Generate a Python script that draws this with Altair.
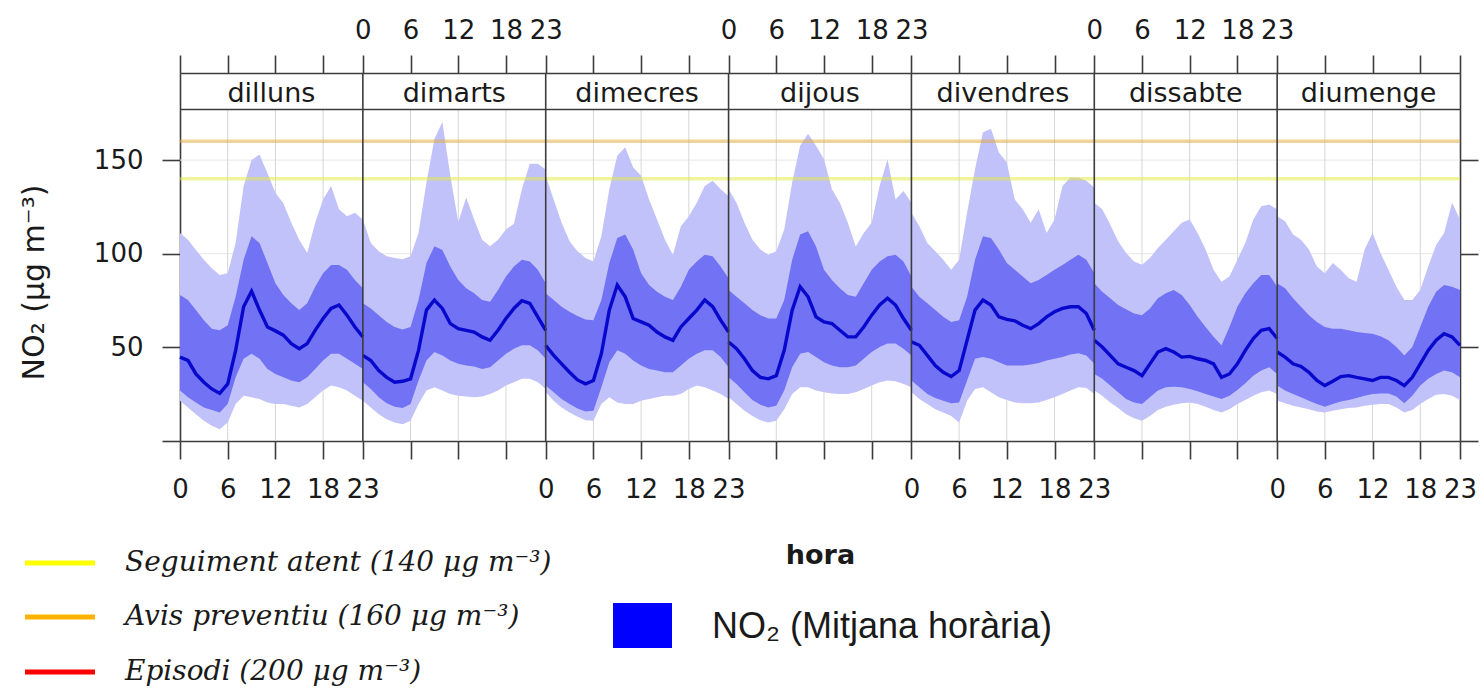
import altair as alt
import pandas as pd

DAYS = ["dilluns", "dimarts", "dimecres", "dijous", "divendres", "dissabte", "diumenge"]
HOURS = list(range(24))
TICK_HOURS = [0, 6, 12, 18]
GRID_HOURS = [6, 12, 18]
Y_TICKS = [0, 50, 100, 150]
Y_GRID = [50, 100, 150]
THRESHOLDS = [140, 160]
THRESHOLD_COLORS = ["#E2EA40", "#E0A838"]
LEGEND_LABELS = ["Seguiment atent (140 μg m⁻³)", "Avis preventiu (160 μg m⁻³)", "Episodi (200 μg m⁻³)"]
LEGEND_COLORS = ["#FFFF00", "#FFB300", "#FF0000"]
SERIES_LABEL = "NO₂ (Mitjana horària)"
Y_TITLE = "NO₂ (µg m⁻³)"
X_TITLE = "hora"

OUTER_HI = [
    [111, 107.5, 102, 96.8, 92.3, 88.7, 89.6, 105.7, 136, 150, 153, 143, 132.6, 127, 116.5, 107.5, 100.4, 116.5, 129, 136.2, 123.7, 120, 121.9, 118.3],
    [118.3, 105.7, 101.3, 98.6, 97.7, 97.1, 98.6, 111, 138, 161.3, 170.3, 141.6, 117, 130, 118.3, 107.5, 104, 107.5, 113, 116, 134.4, 148, 148, 145],
    [141.6, 129, 116.5, 106.6, 101.3, 97.7, 95.9, 109.3, 134.4, 152.3, 156.8, 146, 141.6, 129, 118.3, 107.5, 99.5, 114.7, 120, 127.2, 136.2, 138.9, 134.4, 130.8],
    [134.4, 127.2, 116.5, 107.5, 102.2, 99.5, 101.3, 112.9, 138, 157.7, 164, 157.7, 150.5, 134.4, 127.2, 116.5, 103.9, 111, 116.5, 136.2, 150.5, 129, 133.5, 127.2],
    [121.9, 114.7, 105.7, 101.3, 96.8, 91.4, 96.8, 121.9, 145.2, 164.9, 166.7, 154.1, 148.7, 129, 123.7, 116.5, 123.7, 111.1, 118.3, 136.2, 140.7, 140.7, 138.9, 135.3],
    [127.2, 123.7, 115.6, 106.6, 100.4, 95.9, 94.1, 97.7, 103, 107.5, 112, 116.5, 118.3, 111.1, 102.2, 91.4, 85.1, 87.8, 96.8, 105.7, 118.3, 125.4, 126.3, 123.7],
    [120, 117.4, 110.2, 107.5, 102.2, 93.2, 89.6, 95, 91.4, 86.9, 85.1, 102.2, 111.1, 100.4, 91.4, 82.4, 75.3, 75.3, 80.6, 93.2, 104.7, 111.1, 127.2, 118.3],
]
INNER_HI = [
    [78, 75.3, 69.9, 64.5, 60, 59.1, 61.8, 77, 96.8, 109.3, 105.7, 95, 84.2, 78, 73.5, 69.9, 73.5, 82.4, 89.6, 94, 94, 91.4, 86, 81.5],
    [73.5, 70.8, 67.2, 63.6, 60.9, 59.5, 60.9, 75.3, 95, 104, 102, 93.2, 86, 81.5, 78.9, 75.3, 74.4, 80.6, 87.8, 93.2, 96.8, 95.9, 91.4, 84.2],
    [78.9, 75.3, 71.7, 69, 66.7, 64.9, 64.5, 75.3, 95, 108.4, 110.2, 102.2, 89.6, 83.3, 79.7, 77, 75.3, 82.4, 91.4, 95.9, 99.5, 98.6, 93.2, 86.9],
    [80.6, 77, 73.5, 69.9, 67.2, 65.4, 65.4, 75.3, 96.8, 110.2, 112, 103.9, 91.4, 86, 81.5, 78, 77, 84.2, 91.4, 95.9, 98.6, 99.5, 95.9, 87.8],
    [82.4, 77, 73.5, 69.9, 66.3, 63.6, 64.5, 77, 96.8, 109.3, 108.4, 102.2, 95, 91.4, 87.8, 84.2, 86, 88.7, 91.4, 94, 96.8, 99.5, 96.8, 89.6],
    [84.2, 79.7, 76.2, 72.6, 70.3, 68.1, 67.2, 70.8, 76.2, 78.9, 80.6, 78, 72.6, 66.3, 60.9, 55.6, 51.1, 60.9, 71.7, 78.9, 84.2, 88.7, 88.7, 82.4],
    [84.2, 81.5, 76.2, 71.7, 67.2, 63.6, 60.9, 60, 60, 59.1, 58.2, 57.7, 57.3, 55.9, 53.8, 50.2, 45.7, 50.2, 60.9, 71.7, 79.7, 83.3, 82.4, 80.6],
]
MEAN = [
    [44.8, 43, 35.8, 31.4, 27.8, 25.4, 30.5, 48.4, 71.7, 80, 69.9, 60.9, 58.8, 56.5, 52, 49.3, 52, 59.1, 65.4, 70.8, 72.6, 67.2, 60.9, 55.6],
    [45.7, 43, 37.6, 34, 31.4, 31.9, 33.2, 48.4, 69.9, 75.3, 70.8, 62.7, 60, 59.1, 58.2, 55.6, 53.8, 59.1, 65.4, 70.8, 74.9, 73.5, 66.3, 59.1],
    [51, 45.7, 41.2, 36.7, 32.6, 30.5, 32.3, 46.6, 69.9, 83.3, 77, 65.4, 63.6, 61.8, 58.2, 55.6, 53.8, 60.9, 65.4, 69.9, 75.3, 71.7, 64.5, 58.2],
    [52.9, 49.3, 43.9, 37.6, 34, 33.2, 34.9, 48.4, 69.9, 82.4, 77, 66.3, 63.6, 62.7, 59.1, 55.6, 55.6, 60.9, 67.2, 72.6, 76.2, 72.6, 65.4, 59.1],
    [52.9, 51.1, 45.7, 40.3, 36.7, 34.4, 37.6, 53.8, 69.9, 75.3, 72.6, 66.3, 64.9, 64.2, 61.8, 60, 62.7, 66.3, 69, 70.8, 71.7, 71.7, 68.1, 59.1],
    [53.8, 50.2, 45.7, 41.2, 39.4, 37.6, 34.9, 41.2, 47.5, 49.3, 47.5, 44.8, 45.2, 43.9, 43, 41.2, 34, 35.8, 41.2, 48.4, 54.7, 59.1, 60, 54.7],
    [47.5, 44.8, 41.2, 39.8, 36.7, 32.3, 29.6, 31.9, 34.4, 34.9, 34, 33.2, 32.3, 34, 34, 32.3, 29.6, 34, 41.2, 48.4, 53.8, 57.3, 55.6, 51.1],
]
INNER_LO = [
    [26.9, 23.3, 20.6, 17.9, 16.5, 15.2, 19.7, 34, 43.9, 46.6, 43.9, 38.5, 35.8, 34, 32.3, 31.4, 34, 38.5, 43, 46.6, 46.6, 43.9, 41.2, 38.5],
    [31.4, 27.8, 23.3, 20.1, 18.3, 17.6, 19.7, 32.3, 43, 47.5, 45.7, 43, 41.2, 40.3, 39.8, 38.5, 39.4, 43, 46.6, 49.3, 51.1, 51.1, 48.4, 43.9],
    [29.6, 26, 22.4, 19.7, 17.4, 15.8, 16.1, 28.7, 42.1, 48.4, 46.6, 43, 40.3, 38.5, 37.6, 36.7, 36.7, 40.3, 43.9, 46.6, 48.4, 48.4, 44.8, 39.4],
    [34, 30.5, 26, 21.9, 19.4, 17.9, 18.8, 26.9, 39.4, 46.6, 47.5, 44.8, 42.1, 40.3, 39.4, 39.4, 40.3, 43.9, 47.5, 50.2, 52, 52, 49.3, 45.7],
    [32.3, 28.7, 25.1, 22.9, 21.5, 20.1, 20.6, 32.3, 43.9, 44.8, 43.9, 42.1, 40.3, 40.3, 40.3, 40.9, 41.6, 43, 43.9, 44.8, 46.2, 46.9, 45.7, 41.2],
    [35.8, 33.2, 29.6, 26, 22.4, 20.6, 19.7, 23.3, 26.9, 28.7, 29, 28.7, 27.8, 26.5, 25.1, 23.7, 22.4, 24.2, 27.2, 30.8, 34.9, 37.6, 39.4, 35.8],
    [29.6, 26.9, 25.1, 23.3, 21.5, 19.7, 18.3, 19.7, 21.1, 21.9, 22.9, 24.2, 25.1, 25.4, 25.4, 23.7, 20.1, 24.2, 29.6, 33.2, 35.8, 37.6, 36.7, 34],
]
OUTER_LO = [
    [21.5, 17.9, 14.3, 10.8, 8.1, 6.3, 9.9, 19.7, 24.2, 23.3, 22.4, 20.6, 19.7, 19.7, 18.8, 17.9, 19.7, 23.3, 26.9, 29.6, 28.7, 26.9, 24.2, 21.5],
    [21.5, 17.9, 14.3, 11.6, 9.9, 9, 10.8, 19.7, 26.9, 28.7, 26.9, 25.1, 24.2, 23.7, 23.3, 23.7, 25.1, 26.9, 29.6, 31.4, 33.2, 33.2, 31.4, 27.8],
    [26, 21.5, 17.9, 15.2, 12.9, 11.1, 10.8, 19.7, 23.3, 20.6, 19.7, 19.7, 21.5, 22.4, 23.3, 24.2, 24.2, 25.1, 27.8, 29.6, 28.7, 26.9, 25.1, 22.4],
    [23.3, 19.7, 16.1, 13.4, 11.1, 9.9, 10.8, 17, 25.1, 28.7, 28.7, 26.9, 26, 25.4, 25.1, 25.1, 26, 27.8, 29.6, 31.4, 32.3, 31.9, 30.5, 28.7],
    [26, 22.4, 19.7, 17, 15.2, 13.4, 9.9, 21.5, 27.8, 28.7, 26, 23.3, 21.9, 20.6, 20.1, 20.1, 20.6, 21.9, 23.3, 25.1, 26.9, 28.7, 28.3, 25.1],
    [26.9, 24.2, 20.6, 17.6, 14.3, 12.2, 10.8, 13.4, 16.5, 18.3, 19.4, 20.1, 20.6, 19.7, 18.3, 16.5, 15.2, 17, 19.7, 21.9, 24.2, 26, 26.9, 25.1],
    [21.5, 20.1, 18.8, 17.9, 17, 15.8, 15.2, 16.1, 17, 17.6, 17.9, 18.8, 19.4, 19.7, 19.7, 17.9, 15.2, 16.5, 19.7, 22.4, 24.7, 25.1, 24.2, 21.9],
]

# ---- layout constants ----
SPAN = 23                       # each panel spans hours 0..23
N = len(DAYS)
X_MAX = SPAN * N
Y_TOP = 196.5                   # top of the strip area in data units
STRIP_LOW = 177.0               # bottom of the strip
STRIP_TEXT_Y = 181.2
W, H = 1280, 368
DARK = "#3c3c3c"
TXT = "#1a1a1a"
OUTER_C = "#C2C2FA"
INNER_C = "#7272F4"
LINE_C = "#0808CC"

rows = []
for d, name in enumerate(DAYS):
    for h in HOURS:
        rows.append({
            "day": name, "hour": h, "pos": d * SPAN + h,
            "outer_lo": OUTER_LO[d][h], "outer_hi": OUTER_HI[d][h],
            "inner_lo": INNER_LO[d][h], "inner_hi": INNER_HI[d][h],
            "mean": MEAN[d][h],
        })
df = pd.DataFrame(rows)

tick_pos = sorted({d * SPAN + h for d in range(N) for h in TICK_HOURS} | {X_MAX})
grid_pos = [d * SPAN + h for d in range(N) for h in GRID_HOURS]
border_pos = [k * SPAN for k in range(1, N)]

xs = alt.Scale(domain=[0, X_MAX], nice=False, zero=False)
ys = alt.Scale(domain=[0, Y_TOP], nice=False, zero=False)

BOTTOM_EXPR = (
    f"datum.value % {SPAN} == 0 ? ((datum.value / {SPAN}) % 2 == 0 ? '0' : '{SPAN}') : "
    f"(floor(datum.value / {SPAN}) % 2 == 0 ? toString(datum.value % {SPAN}) : '')"
)
TOP_EXPR = (
    f"datum.value % {SPAN} == 0 ? (((datum.value / {SPAN}) % 2 == 1 && datum.value < {X_MAX}) ? '0' : "
    f"(((datum.value / {SPAN}) % 2 == 0 && datum.value > 0) ? '{SPAN}' : '')) : "
    f"(floor(datum.value / {SPAN}) % 2 == 1 ? toString(datum.value % {SPAN}) : '')"
)

axis_common = dict(
    domainColor=DARK, domainWidth=1.6, tickColor=DARK, tickWidth=1.6, tickSize=18,
    labelFont="DejaVu Sans", labelFontSize=26, labelColor=TXT, grid=False,
    labelOverlap=False, labelFlush=False,
)
AX_BOTTOM = alt.Axis(
    orient="bottom", values=tick_pos, labelExpr=BOTTOM_EXPR, labelPadding=17,
    title=X_TITLE, titleFont="DejaVu Sans", titleFontSize=27, titleFontWeight="bold",
    titleColor=TXT, titleX=W / 2, titleY=122, titleAlign="center", titleBaseline="alphabetic",
    **axis_common,
)
AX_TOP = alt.Axis(
    orient="top", values=tick_pos, labelExpr=TOP_EXPR, labelPadding=17,
    labelBaseline="alphabetic", title="", **axis_common,
)
AX_LEFT = alt.Axis(
    orient="left", values=Y_TICKS, labelExpr="datum.value == 0 ? '' : datum.label",
    labelPadding=19, title=Y_TITLE, titleFont="DejaVu Sans", titleFontSize=30,
    titleFontWeight="normal", titleColor=TXT, titleX=-146, titleY=209, titleAngle=270,
    titleAlign="center", titleBaseline="middle", **axis_common,
)
AX_RIGHT = alt.Axis(orient="right", values=Y_TICKS, labels=False, title="", **axis_common)

hgrid = alt.Chart(pd.DataFrame({"v": Y_GRID})).mark_rule(color="#e6e6e6", strokeWidth=1).encode(
    y=alt.Y("v:Q", scale=ys, axis=None)
)
vgrid = (
    alt.Chart(pd.DataFrame({"p": grid_pos}))
    .transform_calculate(y0="0", y1=str(STRIP_LOW))
    .mark_rule(color="#d6d6d6", strokeWidth=1)
    .encode(x=alt.X("p:Q", scale=xs, axis=None), y=alt.Y("y0:Q", scale=ys, axis=None), y2="y1:Q")
)
outer = alt.Chart(df).mark_area(color=OUTER_C, opacity=1).encode(
    x=alt.X("pos:Q", scale=xs, axis=AX_BOTTOM),
    y=alt.Y("outer_lo:Q", scale=ys, axis=AX_LEFT),
    y2="outer_hi:Q",
    detail="day:N",
)
inner = alt.Chart(df).mark_area(color=INNER_C, opacity=1).encode(
    x=alt.X("pos:Q", scale=xs, axis=AX_TOP),
    y=alt.Y("inner_lo:Q", scale=ys, axis=AX_RIGHT),
    y2="inner_hi:Q",
    detail="day:N",
)
line = alt.Chart(df).mark_line(color=LINE_C, strokeWidth=3.4).encode(
    x=alt.X("pos:Q", scale=xs, axis=None),
    y=alt.Y("mean:Q", scale=ys, axis=None),
    detail="day:N",
)
thr_layers = [
    alt.Chart(pd.DataFrame({"v": [v]})).mark_rule(color=c, strokeWidth=3.5, opacity=0.5).encode(
        y=alt.Y("v:Q", scale=ys, axis=None)
    )
    for v, c in zip(THRESHOLDS, THRESHOLD_COLORS)
]
strip_line = alt.Chart(pd.DataFrame({"v": [STRIP_LOW]})).mark_rule(color=DARK, strokeWidth=1.6).encode(
    y=alt.Y("v:Q", scale=ys, axis=None)
)
borders = (
    alt.Chart(pd.DataFrame({"p": border_pos}))
    .transform_calculate(y0="0", y1=str(Y_TOP))
    .mark_rule(color=DARK, strokeWidth=1.6)
    .encode(x=alt.X("p:Q", scale=xs, axis=None), y=alt.Y("y0:Q", scale=ys, axis=None), y2="y1:Q")
)
strip_text = (
    alt.Chart(pd.DataFrame({"day": DAYS, "i": list(range(N))}))
    .transform_calculate(c=f"datum.i * {SPAN} + {SPAN / 2}", ty=str(STRIP_TEXT_Y))
    .mark_text(font="DejaVu Sans", fontSize=27, color=TXT, baseline="alphabetic", align="center")
    .encode(x=alt.X("c:Q", scale=xs, axis=None), y=alt.Y("ty:Q", scale=ys, axis=None), text="day:N")
)

legend_layers = []
for i, (lab, col) in enumerate(zip(LEGEND_LABELS, LEGEND_COLORS)):
    yy = [490, 544, 599][i]
    legend_layers.append(
        alt.Chart(pd.DataFrame({"t": [lab]})).mark_rule(strokeWidth=5).encode(
            x=alt.value(-155), x2=alt.value(-85), y=alt.value(yy), color=alt.value(col)
        )
    )
    legend_layers.append(
        alt.Chart(pd.DataFrame({"t": [lab]}))
        .mark_text(font="DejaVu Serif", fontStyle="italic", fontSize=28, color=TXT,
                   align="left", baseline="middle")
        .encode(x=alt.value(-55), y=alt.value(yy), text="t:N")
    )
legend_layers.append(
    alt.Chart(pd.DataFrame({"t": [SERIES_LABEL]})).mark_rect(color="#0000FF").encode(
        x=alt.value(433), x2=alt.value(492), y=alt.value(530), y2=alt.value(575)
    )
)
legend_layers.append(
    alt.Chart(pd.DataFrame({"t": [SERIES_LABEL]}))
    .mark_text(font="Liberation Sans", fontSize=36, color=TXT, align="left", baseline="middle")
    .encode(x=alt.value(532), y=alt.value(554), text="t:N")
)

chart = (
    alt.layer(hgrid, vgrid, outer, inner, line, *thr_layers, strip_line, borders, strip_text, *legend_layers)
    .resolve_axis(x="independent", y="independent")
    .properties(
        width=W, height=H,
        padding={"left": 180, "top": 73, "right": 24, "bottom": 247},
        autosize=alt.AutoSizeParams(type="none"),
    )
    .configure_view(strokeWidth=0)
)

chart.save("out.html", embed_options={"renderer": "svg", "actions": False})
